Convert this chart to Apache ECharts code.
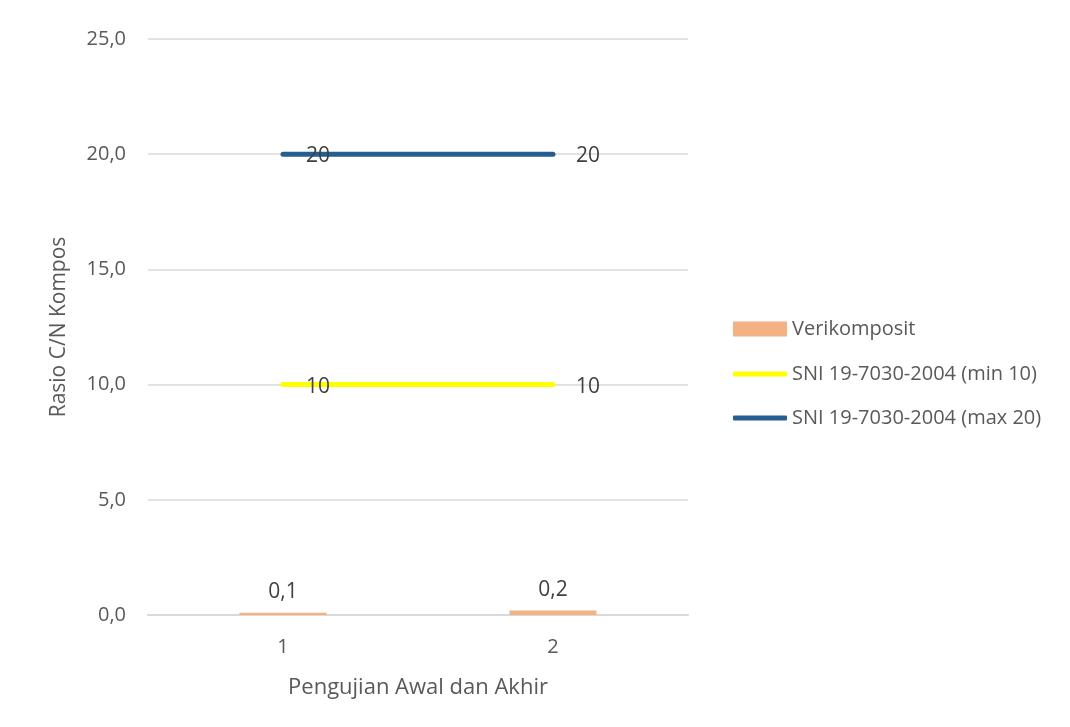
<!DOCTYPE html>
<html lang="id">
<head>
    <meta charset="UTF-8">
    <title>Rasio C/N Kompos</title>
    <script src="https://cdn.jsdelivr.net/npm/echarts@6/dist/echarts.min.js"></script>
    <style>
        html, body { margin: 0; padding: 0; background: #fff; }
        #chart { width: 1070px; height: 727px; }
    </style>
</head>
<body>
<div id="chart"></div>
<script>
    // data
    var categories = ['1', '2'];
    var verikomposit = [0.1, 0.2];
    var sniMin = [10, 10];
    var sniMax = [20, 20];

    var comma = function (v, d) { return Number(v).toFixed(d).replace('.', ','); };
    var font = '"Open Sans", Lato, sans-serif';
    var grey = '#595959';

    var chart = echarts.init(document.getElementById('chart'));
    chart.setOption({
        animation: false,
        textStyle: { fontFamily: font },
        grid: { left: 148, right: 382, top: 39, bottom: 112 },
        legend: [
            {
                // bar legend
                orient: 'vertical',
                left: 728,
                top: 314,
                itemWidth: 54,
                itemHeight: 15,
                itemGap: 6,
                textStyle: { fontSize: 20, color: grey, fontFamily: font },
                data: [{ name: 'Verikomposit', icon: 'rect' }]
            },
            {
                // line legends
                orient: 'vertical',
                left: 728,
                top: 359,
                itemWidth: 54,
                itemHeight: 5,
                itemGap: 24,
                textStyle: { fontSize: 20, color: grey, fontFamily: font },
                data: [
                    { name: 'SNI 19-7030-2004 (min 10)', icon: 'roundRect' },
                    { name: 'SNI 19-7030-2004 (max 20)', icon: 'roundRect' }
                ]
            }
        ],
        xAxis: {
            type: 'category',
            data: categories,
            name: 'Pengujian Awal dan Akhir',
            nameLocation: 'middle',
            nameGap: 62,
            nameTextStyle: { fontSize: 22, color: grey },
            axisLine: { lineStyle: { color: '#d9d9d9', width: 2 } },
            axisTick: { show: false },
            axisLabel: { fontSize: 20, color: grey, margin: 22 }
        },
        yAxis: {
            type: 'value',
            min: 0,
            max: 25,
            interval: 5,
            name: 'Rasio C/N Kompos',
            nameLocation: 'middle',
            nameGap: 78,
            nameTextStyle: { fontSize: 21, color: grey },
            axisLine: { show: false },
            axisTick: { show: false },
            splitLine: { lineStyle: { color: '#d9d9d9', width: 1.5 } },
            axisLabel: {
                fontSize: 20, color: grey, margin: 22,
                formatter: function (v) { return comma(v, 1); }
            }
        },
        series: [
            {
                name: 'Verikomposit',
                type: 'bar',
                data: verikomposit,
                barWidth: 87,
                itemStyle: { color: '#F4B183' },
                label: {
                    show: true, position: 'top', distance: 10,
                    fontSize: 21, color: '#404040',
                    formatter: function (p) { return comma(p.value, 1); }
                }
            },
            {
                name: 'SNI 19-7030-2004 (min 10)',
                type: 'line',
                data: sniMin,
                symbol: 'circle',
                symbolSize: 2,
                showSymbol: true,
                lineStyle: { color: '#FFFF00', width: 5, cap: 'round' },
                itemStyle: { color: '#FFFF00' },
                label: {
                    show: true, position: 'right', distance: 22, offset: [0, 2],
                    fontSize: 21, color: '#404040'
                }
            },
            {
                name: 'SNI 19-7030-2004 (max 20)',
                type: 'line',
                data: sniMax,
                symbol: 'circle',
                symbolSize: 2,
                showSymbol: true,
                lineStyle: { color: '#255E91', width: 5, cap: 'round' },
                itemStyle: { color: '#255E91' },
                label: {
                    show: true, position: 'right', distance: 22, offset: [0, 2],
                    fontSize: 21, color: '#404040'
                }
            }
        ]
    });
</script>
</body>
</html>
